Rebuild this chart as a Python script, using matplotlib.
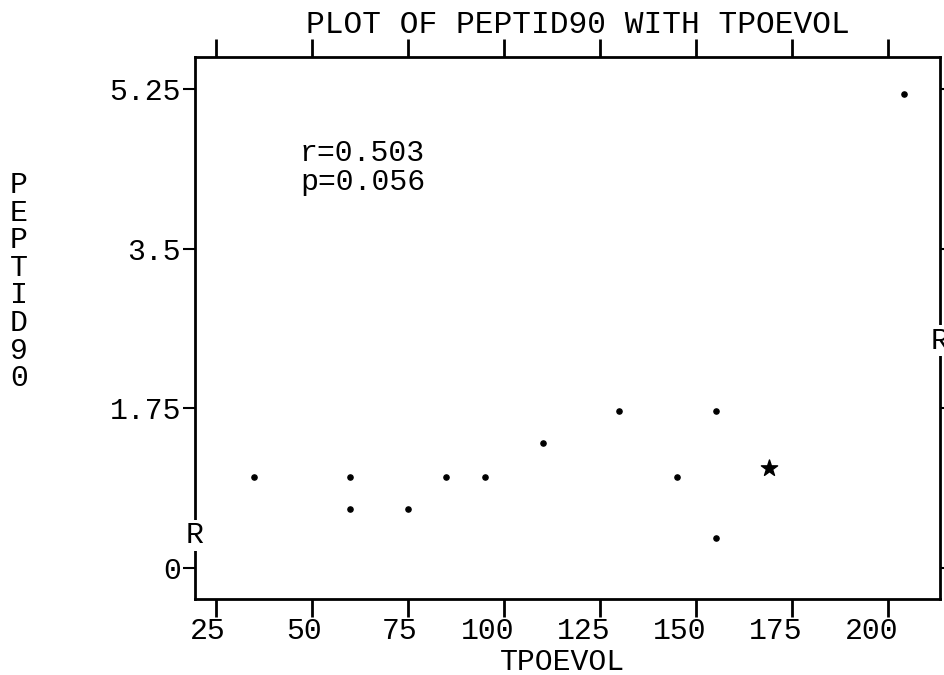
# plot_peptid90.py
# PEPTID90 vs TPOEVOL scatter (old SPSS-style printout)

import matplotlib
matplotlib.use("Agg")
import matplotlib.pyplot as plt
import matplotlib.transforms as mtransforms

# data
tpoevol = [35, 60, 60, 75, 85, 95, 110, 130, 145, 155, 155, 204]
peptid90 = [1.0, 1.0, 0.65, 0.65, 1.0, 1.0, 1.37, 1.72, 1.0, 1.72, 0.33, 5.2]
# '*' = several cases on one spot
multi_x = [169]
multi_y = [1.1]

x_ticks = [25, 50, 75, 100, 125, 150, 175, 200]
y_ticks = [0, 1.75, 3.5, 5.25]
y_tick_labels = ["0", "1.75", "3.5", "5.25"]

# regression line ends, marked "R" on the frame
reg_x = [19.6, 213.4]
reg_y = [0.36, 2.49]

r_text = "r=0.503"
p_text = "p=0.056"

FONT = "Liberation Mono"
FS = 21.5

W, H = 944, 675

plt.rcParams["font.family"] = [FONT, "DejaVu Sans"]

fig = plt.figure(figsize=(W / 100, H / 100), dpi=100)
ax = fig.add_axes([195 / W, 1 - 599 / H, (940 - 195) / W, 542 / H])

ax.scatter(tpoevol, peptid90, s=14, color="black", zorder=3)
ax.scatter(multi_x, multi_y, marker="*", s=150, color="black", zorder=3)

ax.set_xlim(19.6, 213.4)
ax.set_ylim(-0.34, 5.605)

ax.set_xticks(x_ticks)
ax.set_xticklabels([str(v) for v in x_ticks], fontsize=FS, ha="right")
ax.set_yticks(y_ticks)
ax.set_yticklabels(y_tick_labels, fontsize=FS)

ax.tick_params(axis="x", direction="out", length=13, width=2, pad=0,
               top=True, bottom=True)
ax.tick_params(axis="y", direction="out", length=9, width=1.5, pad=1,
               left=True, right=True)

for s in ax.spines.values():
    s.set_linewidth(2)

# x labels end a little right of their ticks on the printout
shift = mtransforms.ScaledTranslation(10 / 100, 0, fig.dpi_scale_trans)
for lbl in ax.get_xticklabels():
    lbl.set_transform(lbl.get_transform() + shift)

# R markers where the fit line meets the frame
for rx, ry in zip(reg_x, reg_y):
    ax.text(rx, ry, "R", fontsize=FS, ha="center", va="center",
            clip_on=False, zorder=4,
            bbox=dict(facecolor="white", edgecolor="none", pad=1))

fig.text(300 / W, 1 - 161 / H, r_text, fontsize=FS, ha="left", va="baseline")
fig.text(300 / W, 1 - 190 / H, p_text, fontsize=FS, ha="left", va="baseline")

# title and x label
fig.text(578 / W, 1 - 25 / H, "PLOT OF PEPTID90 WITH TPOEVOL",
         fontsize=22.5, ha="center", va="center")
fig.text(562 / W, 1 - 662 / H, "TPOEVOL", fontsize=FS,
         ha="center", va="center")

# y label stacked letter by letter
for i, ch in enumerate("PEPTID90"):
    fig.text(19 / W, 1 - (185 + i * 27.6) / H, ch, fontsize=FS,
             ha="center", va="center")

fig.savefig("out.png", dpi=100)
